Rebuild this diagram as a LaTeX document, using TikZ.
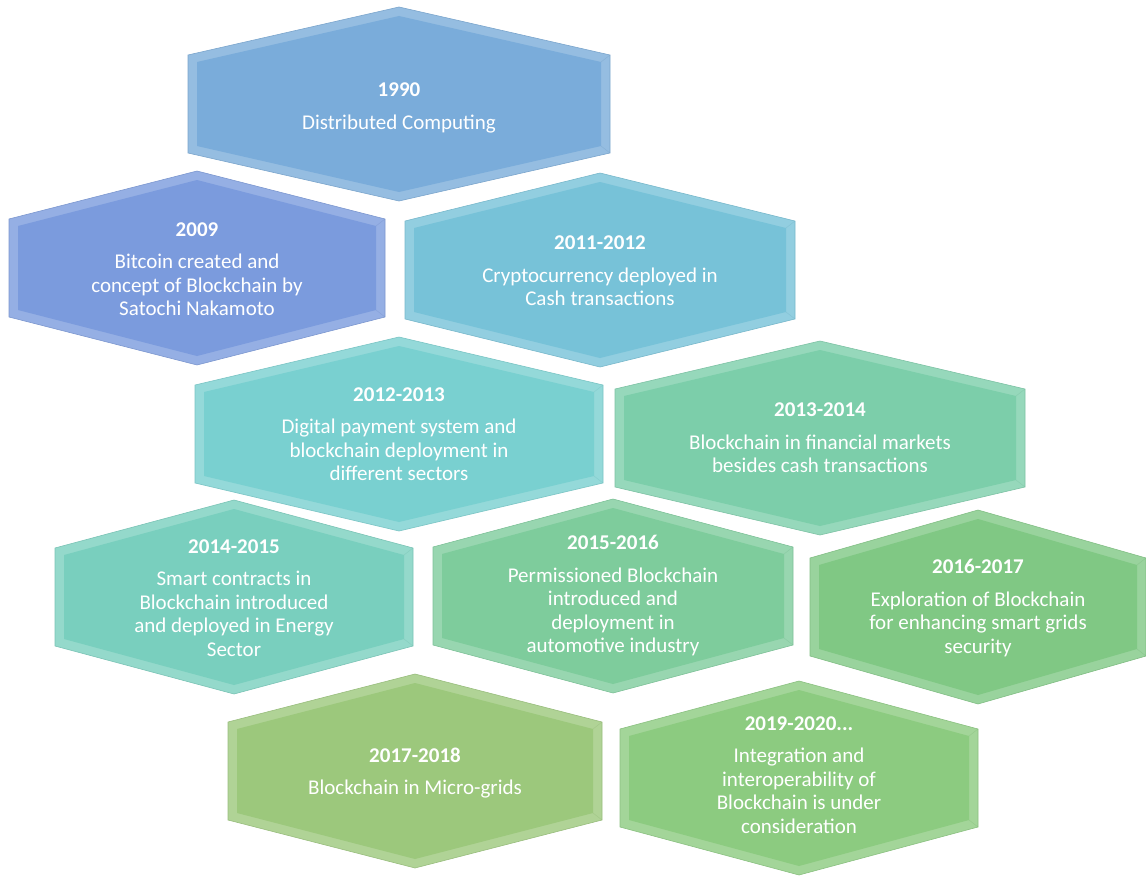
\documentclass[tikz,border=0pt]{standalone}
\usepackage{fontspec}
\setmainfont{Carlito}
\usepackage{tikz}

\definecolor{c1990}{RGB}{122,172,218}
\definecolor{c2009}{RGB}{123,155,221}
\definecolor{c2011}{RGB}{119,194,216}
\definecolor{c2012}{RGB}{121,208,208}
\definecolor{c2013}{RGB}{124,206,170}
\definecolor{c2014}{RGB}{121,207,190}
\definecolor{c2015}{RGB}{126,204,156}
\definecolor{c2016}{RGB}{128,200,132}
\definecolor{c2017}{RGB}{156,200,124}
\definecolor{c2019}{RGB}{140,203,128}

\begin{document}
\begin{tikzpicture}[x=1pt, y=-1pt,
  cell/.style={text=white, align=center, inner sep=0pt, font=\fontsize{21}{23.5}\selectfont}]
\useasboundingbox (0,0) rectangle (1146,880);
% hexagons: centre x / centre y / half width / colour
\foreach \cx/\cy/\hw/\col in {399/104/211/c1990, 197/268/188/c2009, 600/270/195/c2011,
    399/434/204/c2012, 820/438/205/c2013, 234/597/179/c2014, 613/596/180/c2015,
    978/607/168/c2016, 415/771/187/c2017, 799/778/179/c2019}{
  \filldraw[fill=\col!80!white, draw=\col!85!gray, line width=.6pt]
    (\cx,\cy) ++(0,-97) -- ++(\hw,48) -- ++(0,98) -- ++(-\hw,48) -- ++(-\hw,-48) -- ++(0,-98) -- cycle; %bevel
  \fill[\col]
    (\cx,\cy) ++(0,-88) -- ++(\hw-9,46) -- ++(0,84) -- ++(-\hw+9,46) -- ++(-\hw+9,-46) -- ++(0,-84) -- cycle; %face
  \draw[\col!90!black, opacity=.35, line width=.5pt] (\cx,\cy) ++(\hw,-49) -- ++(-9,7); %corner
  \draw[\col!90!black, opacity=.35, line width=.5pt] (\cx,\cy) ++(\hw,49) -- ++(-9,-7); %corner
}
\node[cell] (y1990) at (399,108) {\textbf{1990}\\[9pt]Distributed Computing};
\node[cell] (y2009) at (197,269) {\textbf{2009}\\[9pt]Bitcoin created and\\concept of Blockchain by\\Satochi Nakamoto};
\node[cell] (y2011) at (600,271) {\textbf{2011-2012}\\[9pt]Cryptocurrency deployed in\\Cash transactions};
\node[cell] (y2012) at (399,434) {\textbf{2012-2013}\\[9pt]Digital payment system and\\blockchain deployment in\\different sectors};
\node[cell] (y2013) at (820,438) {\textbf{2013-2014}\\[9pt]Blockchain in financial markets\\besides cash transactions};
\node[cell] (y2014) at (234,598) {\textbf{2014-2015}\\[9pt]Smart contracts in\\Blockchain introduced\\and deployed in Energy\\Sector};
\node[cell] (y2015) at (613,596) {\textbf{2015-2016}\\[9pt]Permissioned Blockchain\\introduced and\\deployment in\\automotive industry};
\node[cell] (y2016) at (978,608) {\textbf{2016-2017}\\[9pt]Exploration of Blockchain\\for enhancing smart grids\\security};
\node[cell] (y2017) at (415,773) {\textbf{2017-2018}\\[9pt]Blockchain in Micro-grids};
\node[cell] (y2019) at (799,775) {\textbf{2019-2020...}\\[9pt]Integration and\\interoperability of\\Blockchain is under\\consideration};
\end{tikzpicture}
\end{document}
